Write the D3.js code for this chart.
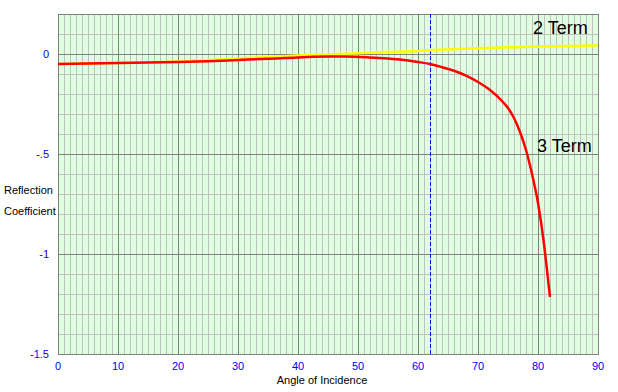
<!DOCTYPE html>
<html lang="en">
<head>
<meta charset="UTF-8">
<title>Reflection Coefficient</title>
<style>
    body { margin: 0; padding: 0; background: #fff; }
    svg { display: block; font-family: "Liberation Sans", Arial, sans-serif; }
    .tick-label { font-size: 11px; fill: #0000ff; }
    .axis-title { font-size: 11px; fill: #000; }
    .series-label { font-size: 18px; fill: #000; }
</style>
</head>
<body>
<svg id="chart" width="618" height="392"></svg>
<script src="https://d3js.org/d3.v7.min.js"></script>
<script>
// angle of incidence (degrees) and reflection coefficient
const threeTermAngles = [0, 5, 10, 15, 20, 25, 30, 35, 40, 45, 48, 52, 55, 57, 60, 62, 64, 66, 68, 70, 72, 74, 75, 76, 77, 78, 79, 80, 81, 81.5, 82];
const threeTermValues = [-0.050, -0.048, -0.045, -0.043, -0.040, -0.036, -0.030, -0.024, -0.017, -0.013, -0.012, -0.017, -0.023, -0.028, -0.040, -0.050, -0.066, -0.084, -0.108, -0.140, -0.180, -0.235, -0.270, -0.320, -0.390, -0.480, -0.600, -0.745, -0.950, -1.080, -1.215];

const twoTermAngles = [0, 10, 20, 25, 30, 35, 40, 45, 50, 55, 60, 62, 70, 80, 90];
const twoTermValues = [-0.050, -0.045, -0.038, -0.030, -0.022, -0.015, -0.008, -0.002, 0.004, 0.010, 0.015, 0.019, 0.029, 0.037, 0.042];

const xTicks = [0, 10, 20, 30, 40, 50, 60, 70, 80, 90];
const yTicks = [0, -0.5, -1, -1.5];
const yTickLabels = ["0", "-.5", "-1", "-1.5"];
const criticalAngle = 62;

const margin = { top: 14, right: 20, bottom: 38, left: 58 };
const width = 618, height = 392;

const x = d3.scaleLinear().domain([0, 90]).range([margin.left, width - margin.right]);
const y = d3.scaleLinear().domain([-1.5, 0.2]).range([height - margin.bottom, margin.top]);

const svg = d3.select("#chart");

// plot background
svg.append("rect")
    .attr("x", x(0)).attr("y", y(0.2))
    .attr("width", x(90) - x(0)).attr("height", y(-1.5) - y(0.2))
    .attr("fill", "#e0ffe0");

// minor grid
const minorX = d3.range(1, 90, 1).filter(d => d % 10 !== 0);
const minorY = d3.range(-14, 2, 1).map(d => d / 10).filter(d => Math.abs(d * 2 - Math.round(d * 2)) > 1e-6);

svg.append("g").selectAll("line").data(minorX).join("line")
    .attr("x1", d => Math.round(x(d)) + 0.5).attr("x2", d => Math.round(x(d)) + 0.5)
    .attr("y1", y(0.2)).attr("y2", y(-1.5))
    .attr("stroke", "#c0c0c0");
svg.append("g").selectAll("line").data(minorY).join("line")
    .attr("y1", d => Math.round(y(d)) + 0.5).attr("y2", d => Math.round(y(d)) + 0.5)
    .attr("x1", x(0)).attr("x2", x(90))
    .attr("stroke", "#c0c0c0");

// major grid
svg.append("g").selectAll("line").data([10, 20, 30, 40, 50, 60, 70, 80]).join("line")
    .attr("x1", d => Math.round(x(d)) + 0.5).attr("x2", d => Math.round(x(d)) + 0.5)
    .attr("y1", y(0.2)).attr("y2", y(-1.5))
    .attr("stroke", "#808080");
svg.append("g").selectAll("line").data([0, -0.5, -1]).join("line")
    .attr("y1", d => Math.round(y(d)) + 0.5).attr("y2", d => Math.round(y(d)) + 0.5)
    .attr("x1", x(0)).attr("x2", x(90))
    .attr("stroke", "#808080");

// frame
svg.append("rect")
    .attr("x", x(0) + 0.5).attr("y", y(0.2) + 0.5)
    .attr("width", x(90) - x(0)).attr("height", y(-1.5) - y(0.2))
    .attr("fill", "none").attr("stroke", "#808080");

// critical angle marker
svg.append("line")
    .attr("x1", Math.round(x(criticalAngle)) + 0.5).attr("x2", Math.round(x(criticalAngle)) + 0.5)
    .attr("y1", y(0.2)).attr("y2", y(-1.5))
    .attr("stroke", "#0000ff").attr("stroke-dasharray", "4,2");

const line = d3.line().x(d => x(d[0])).y(d => y(d[1])).curve(d3.curveMonotoneX);

svg.append("path")
    .datum(twoTermAngles.map((a, i) => [a, twoTermValues[i]]))
    .attr("d", line)
    .attr("fill", "none").attr("stroke", "#ffff00").attr("stroke-width", 2.5);

svg.append("path")
    .datum(threeTermAngles.map((a, i) => [a, threeTermValues[i]]))
    .attr("d", line)
    .attr("fill", "none").attr("stroke", "#ff0000").attr("stroke-width", 2.5);

// tick labels
svg.append("g").selectAll("text").data(xTicks).join("text")
    .attr("class", "tick-label")
    .attr("x", d => x(d)).attr("y", 370)
    .attr("text-anchor", "middle")
    .text(d => d);

svg.append("g").selectAll("text").data(yTicks).join("text")
    .attr("class", "tick-label")
    .attr("x", 49).attr("y", d => y(d) + 4)
    .attr("text-anchor", "end")
    .text((d, i) => yTickLabels[i]);

// titles
svg.append("text").attr("class", "axis-title")
    .attr("x", 322).attr("y", 384).attr("text-anchor", "middle")
    .text("Angle of Incidence");
svg.append("text").attr("class", "axis-title")
    .attr("x", 4).attr("y", 194).text("Reflection");
svg.append("text").attr("class", "axis-title")
    .attr("x", 4).attr("y", 215).text("Coefficient");

svg.append("text").attr("class", "series-label")
    .attr("x", 533).attr("y", 34).text("2 Term");
svg.append("text").attr("class", "series-label")
    .attr("x", 537).attr("y", 152).text("3 Term");
</script>
</body>
</html>
